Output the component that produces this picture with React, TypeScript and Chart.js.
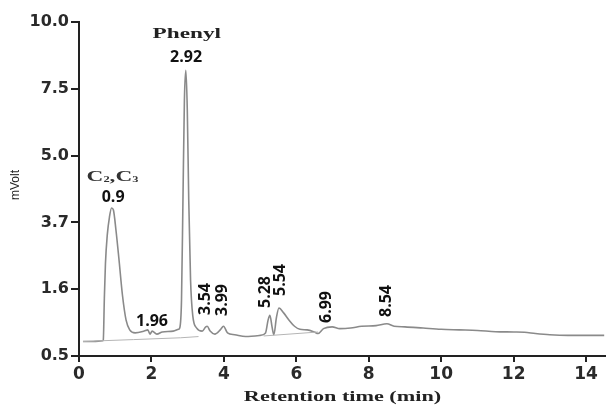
import React, { useEffect, useRef } from "react";
import { Chart, registerables } from "chart.js";

Chart.register(...registerables);

// Y-axis tick labels (evenly spaced on the original figure, mVolt)
const Y_TICK_LABELS = [0.5, 1.6, 3.7, 5.0, 7.5, 10.0];
const X_TICKS = [0, 2, 4, 6, 8, 10, 12, 14];

// Chromatogram trace: retention time (min) and signal (mVolt)
const TIME = [
  0.11, 0.4, 0.65, 0.67, 0.7, 0.73, 0.78, 0.84, 0.9, 0.95, 1.02, 1.1, 1.2, 1.3, 1.4, 1.55,
  1.8, 1.9, 1.96, 2.02, 2.15, 2.3, 2.6, 2.75, 2.78, 2.83, 2.87, 2.91, 2.95, 2.99,
  3.03, 3.08, 3.14, 3.25, 3.4, 3.5, 3.54, 3.62, 3.75, 3.9, 3.99, 4.1, 4.3, 4.6, 5.0,
  5.15, 5.22, 5.27, 5.33, 5.38, 5.45, 5.52, 5.65, 5.8, 5.95, 6.1, 6.3, 6.5, 6.6,
  6.75, 6.99, 7.2, 7.5, 7.8, 8.2, 8.5, 8.7, 9.0, 9.5, 10.0, 10.5, 11.0, 11.5, 12.0,
  12.3, 12.6, 13.0, 13.5, 14.0, 14.5,
];
const SIGNAL = [
  0.74, 0.74, 0.75, 0.76, 1.45, 2.4, 3.3, 3.8, 3.98, 3.94, 3.46, 2.58, 1.5, 1.09, 0.93, 0.88,
  0.91, 0.93, 0.86, 0.91, 0.86, 0.895, 0.91, 0.94, 0.96, 1.42, 4.13, 7.07, 8.19, 6.7,
  4.13, 1.89, 1.17, 0.96, 0.91, 0.98, 0.99, 0.91, 0.86, 0.93, 0.99, 0.88, 0.85, 0.82, 0.84,
  0.88, 1.09, 1.17, 0.98, 0.85, 1.13, 1.29, 1.21, 1.09, 0.99, 0.94, 0.93, 0.895, 0.87,
  0.95, 0.98, 0.95, 0.96, 0.99, 1.0, 1.03, 0.99, 0.98, 0.96, 0.94, 0.93, 0.92, 0.9, 0.895,
  0.89, 0.87, 0.85, 0.84, 0.84, 0.84,
];

// Integration baseline drawn under the peaks
const BASE_TIME = [0.11, 1.5, 2.8, 3.3, 4.2, 5.1, 6.6];
const BASE_SIGNAL: (number | null)[] = [0.74, 0.77, 0.8, 0.82, null, 0.83, 0.895];

// Peak annotations
const PEAK_TIMES = [0.9, 1.96, 2.92, 3.54, 3.99, 5.28, 5.54, 6.99, 8.54];
const PEAK_LABELS = ["0.9", "1.96", "2.92", "3.54", "3.99", "5.28", "5.54", "6.99", "8.54"];

const X_TITLE = "Retention time (min)";
const Y_TITLE = "mVolt";
const PHENYL = "Phenyl";

// map a mVolt value onto the evenly spaced tick index axis
function toAxis(v: number | null): number | null {
  if (v === null) return null;
  const L = Y_TICK_LABELS;
  for (let i = 0; i < L.length - 1; i++) {
    if (v <= L[i + 1] || i === L.length - 2) {
      return i + (v - L[i]) / (L[i + 1] - L[i]);
    }
  }
  return 0;
}

const LABEL_LAYOUT = [
  { dx: 1.5, y: 197, rot: false },
  { dx: 2, y: 321, rot: false },
  { dx: 1.3, y: 57, rot: false },
  { dx: -2, y: 299, rot: true },
  { dx: -1.4, y: 300, rot: true },
  { dx: -5, y: 292, rot: true },
  { dx: 0.5, y: 280, rot: true },
  { dx: -6, y: 307, rot: true },
  { dx: -2, y: 301, rot: true },
];

const textPlugin = {
  id: "chromText",
  afterDraw(chart: any) {
    const ctx: CanvasRenderingContext2D = chart.ctx;
    const xs = chart.scales.x;
    ctx.save();
    ctx.fillStyle = "#111";
    ctx.textAlign = "center";
    ctx.textBaseline = "middle";
    PEAK_TIMES.forEach((t, i) => {
      const st = LABEL_LAYOUT[i];
      const x = xs.getPixelForValue(t) + st.dx;
      ctx.font = 'bold 16px "Open Sans"';
      if (st.rot) {
        ctx.save();
        ctx.translate(x, st.y);
        ctx.rotate(-Math.PI / 2);
        ctx.fillText(PEAK_LABELS[i], 0, 0);
        ctx.restore();
      } else {
        ctx.fillText(PEAK_LABELS[i], x, st.y);
      }
    });

    // Phenyl
    ctx.save();
    ctx.fillStyle = "#222";
    ctx.translate(xs.getPixelForValue(2.92) + 2, 34);
    ctx.scale(1.55, 1);
    ctx.font = 'bold 15px "Liberation Serif"';
    ctx.fillText(PHENYL, 0, 0);
    ctx.restore();

    // C2,C3
    ctx.save();
    ctx.fillStyle = "#333";
    ctx.translate(xs.getPixelForValue(0.9) - 25, 177);
    ctx.scale(1.55, 1);
    ctx.textAlign = "left";
    const big = 'bold 15px "Liberation Serif"';
    const small = 'bold 8px "Liberation Serif"';
    let cx = 0;
    const parts: [string, boolean][] = [["C", false], ["2", true], [",", false], ["C", false], ["3", true]];
    parts.forEach(([s, sub]) => {
      ctx.font = sub ? small : big;
      ctx.fillText(s, cx, sub ? 3 : 0);
      cx += ctx.measureText(s).width;
    });
    ctx.restore();

    // X title
    ctx.save();
    ctx.fillStyle = "#222";
    ctx.translate((chart.chartArea.left + chart.chartArea.right) / 2, 397);
    ctx.scale(1.48, 1);
    ctx.font = 'bold 15px "Liberation Serif"';
    ctx.fillText(X_TITLE, 0, 0);
    ctx.restore();

    // Y title
    ctx.save();
    ctx.fillStyle = "#222";
    ctx.translate(16, 185);
    ctx.rotate(-Math.PI / 2);
    ctx.font = '12px "Liberation Sans"';
    ctx.fillText(Y_TITLE, 0, 0);
    ctx.restore();

    ctx.restore();
  },
};

export default function App() {
  const ref = useRef<HTMLCanvasElement | null>(null);
  useEffect(() => {
    document.body.style.margin = "0";
    const canvas = ref.current!;
    const chart = new Chart(canvas, {
      type: "line",
      data: {
        datasets: [
          {
            label: "baseline",
            data: BASE_TIME.map((t, i) => ({ x: t, y: toAxis(BASE_SIGNAL[i]) as any })),
            borderColor: "#b5b5b5",
            borderWidth: 1,
            pointRadius: 0,
            spanGaps: false,
          },
          {
            label: "signal",
            data: TIME.map((t, i) => ({ x: t, y: toAxis(SIGNAL[i]) as number })),
            borderColor: "#8a8a8a",
            borderWidth: 1.6,
            pointRadius: 0,
            cubicInterpolationMode: "monotone",
          },
        ],
      },
      options: {
        animation: false,
        responsive: false,
        maintainAspectRatio: false,
        layout: { padding: { top: 22, right: 0, left: 0, bottom: 0 } },
        plugins: { legend: { display: false }, tooltip: { enabled: false } },
        scales: {
          x: {
            type: "linear",
            min: 0,
            max: 14.55,
            afterBuildTicks: (s: any) => {
              s.ticks = X_TICKS.map((v) => ({ value: v }));
            },
            afterFit: (s: any) => {
              s.height = 51;
            },
            grid: { display: true, drawOnChartArea: false, drawTicks: true, tickLength: 6, color: "#222", lineWidth: 2 },
            border: { display: true, color: "#222", width: 2 },
            ticks: {
              color: "#2a2a2a",
              font: { family: "DejaVu Sans", weight: "bold", size: 17 },
              padding: 2,
              maxRotation: 0,
              callback: (v: any) => String(v),
            },
          },
          y: {
            type: "linear",
            min: 0,
            max: 5,
            afterBuildTicks: (s: any) => {
              s.ticks = Y_TICK_LABELS.map((_, i) => ({ value: i }));
            },
            afterFit: (s: any) => {
              s.width = 79;
            },
            grid: { display: true, drawOnChartArea: false, drawTicks: true, tickLength: 8, color: "#222", lineWidth: 2 },
            border: { display: true, color: "#222", width: 2 },
            ticks: {
              color: "#2a2a2a",
              font: { family: "DejaVu Sans", weight: "bold", size: 16 },
              padding: 2,
              callback: (v: any) => {
                const i = Math.round(Number(v));
                return Y_TICK_LABELS[i] !== undefined ? Y_TICK_LABELS[i].toFixed(1) : "";
              },
            },
          },
        },
      },
      plugins: [textPlugin],
    });
    return () => chart.destroy();
  }, []);
  return (
    <div style={{ width: 606, height: 407 }}>
      <canvas ref={ref} width={606} height={407} style={{ display: "block" }} />
    </div>
  );
}
